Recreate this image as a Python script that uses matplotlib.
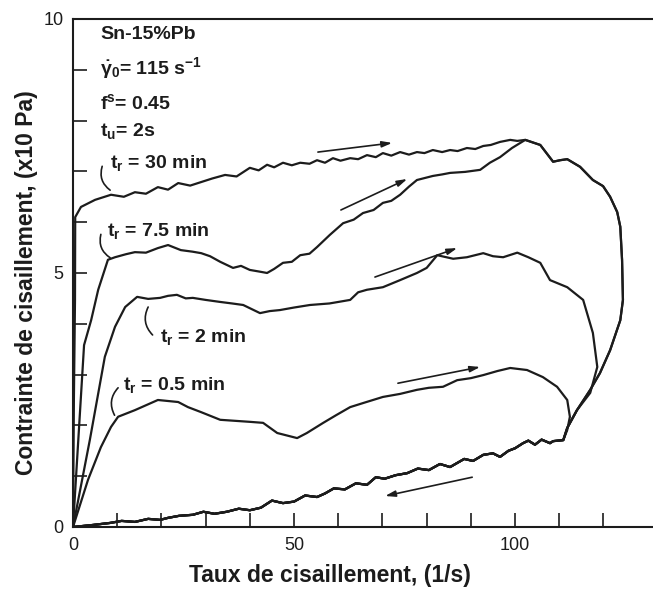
import matplotlib
matplotlib.use("Agg")
import matplotlib.pyplot as plt
from matplotlib.ticker import FixedLocator

plt.rcParams['font.family'] = ['Liberation Sans', 'DejaVu Sans']
plt.rcParams['mathtext.fontset'] = 'custom'
plt.rcParams['mathtext.rm'] = 'Liberation Sans:bold'
plt.rcParams['mathtext.it'] = 'Liberation Sans:bold'
plt.rcParams['mathtext.bf'] = 'Liberation Sans:bold'
plt.rcParams['mathtext.default'] = 'rm'

# loading branches (shear rate ramp up), one per rest time
rise_30_x = [0, 0.2, 0.45, 0.5, 1.8, 5.0, 8.6, 11.5, 14.0, 16.5, 19.2, 21.5, 23.8, 26.5, 29.0,
             31.5, 34.4, 37.0, 40.0, 42.0, 43.9, 45.5, 47.5, 49.5, 51.4, 53.5, 55.2, 57.0,
             58.8, 60.5, 62.7, 64.5, 66.5, 68.5, 70.1, 72.0, 74.0, 76.0, 77.8, 79.5, 81.4,
             83.5, 85.3, 87.0, 89.1, 91.0, 92.8, 94.5, 96.6, 98.9, 100.5, 102.3]
rise_30_y = [0, 2.5, 4.47, 6.10, 6.30, 6.44, 6.54, 6.50, 6.59, 6.56, 6.69, 6.64, 6.77, 6.72, 6.79,
             6.86, 6.93, 6.90, 7.07, 7.02, 7.13, 7.08, 7.17, 7.12, 7.17, 7.15, 7.22, 7.17,
             7.26, 7.21, 7.26, 7.24, 7.32, 7.28, 7.36, 7.31, 7.38, 7.33, 7.38, 7.36, 7.42,
             7.38, 7.42, 7.40, 7.46, 7.44, 7.50, 7.52, 7.58, 7.62, 7.60, 7.62]

rise_75_x = [0, 2.5, 4.1, 5.7, 7.9, 9.5, 12.0, 14.0, 16.5, 19.2, 21.5, 24.4, 27.0, 29.0, 31.0,
             33.3, 36.2, 38.0, 40.0, 42.0, 43.9, 45.5, 47.5, 49.5, 51.4, 53.5, 55.2, 58.1,
             61.1, 63.5, 65.6, 68.0, 70.1, 72.0, 74.0, 76.0, 77.8, 81.4, 83.5, 85.3, 88.7,
             92.1, 94.3, 96.6, 99.3, 102.3]
rise_75_y = [0, 3.58, 4.07, 4.67, 5.26, 5.31, 5.37, 5.41, 5.40, 5.49, 5.55, 5.45, 5.42, 5.39, 5.33,
             5.22, 5.10, 5.14, 5.06, 5.03, 5.00, 5.08, 5.20, 5.22, 5.35, 5.38, 5.51, 5.75,
             5.98, 6.05, 6.18, 6.24, 6.38, 6.42, 6.54, 6.70, 6.83, 6.91, 6.94, 6.97, 6.99,
             7.03, 7.17, 7.28, 7.46, 7.62]

# unloading from the common peak of the 30 min and 7.5 min runs
peak_down_x = [105.7, 108.6, 110.2, 111.8, 114.7, 117.6, 119.9, 121.5, 123.1, 123.8, 124.2,
               124.4, 123.8, 121.5, 119.2, 117.0, 114.0, 111.8, 110.9]
peak_down_y = [7.52, 7.19, 7.22, 7.24, 7.09, 6.83, 6.71, 6.50, 6.20, 5.91, 5.26,
               4.47, 4.07, 3.48, 3.03, 2.70, 2.30, 1.95, 1.71]

loop_2_x = [0, 3.8, 7.2, 9.5, 11.8, 14.5, 17.0, 19.7, 21.5, 23.5, 25.5, 27.1, 30.0, 33.3, 36.0,
            38.5, 42.3, 44.5, 46.8, 50.0, 53.6, 58.0, 62.7, 64.5, 66.5, 70.1, 74.0, 77.8,
            80.0, 82.4, 86.0, 89.1, 92.8, 95.0, 97.3, 100.5, 103.0, 105.7, 107.9, 111.8,
            115.4, 117.6, 118.6, 117.0, 114.0, 111.8, 110.9]
loop_2_y = [0, 1.71, 3.35, 3.94, 4.33, 4.53, 4.49, 4.51, 4.55, 4.57, 4.50, 4.51, 4.47, 4.43, 4.40,
            4.37, 4.21, 4.25, 4.27, 4.32, 4.37, 4.40, 4.47, 4.62, 4.67, 4.72, 4.86, 5.00,
            5.10, 5.35, 5.28, 5.31, 5.39, 5.33, 5.31, 5.40, 5.31, 5.20, 4.86, 4.72,
            4.47, 3.82, 3.15, 2.64, 2.30, 1.95, 1.71]

loop_05_x = [0, 3.4, 6.3, 8.6, 10.2, 14.0, 19.2, 23.8, 26.0, 29.0, 33.3, 40.0, 43.0, 46.2, 50.7,
             52.9, 56.6, 59.5, 62.7, 66.0, 70.1, 74.0, 77.8, 80.5, 83.7, 86.9, 90.0, 92.8,
             96.0, 98.9, 102.7, 106.3, 109.5, 111.8, 112.4, 111.8, 110.9]
loop_05_y = [0, 0.93, 1.57, 1.97, 2.17, 2.30, 2.50, 2.46, 2.36, 2.26, 2.11, 2.07, 2.05, 1.85, 1.75,
             1.85, 2.05, 2.20, 2.36, 2.45, 2.56, 2.62, 2.70, 2.74, 2.76, 2.89, 2.93, 2.99,
             3.07, 3.13, 3.09, 2.95, 2.76, 2.50, 2.17, 1.91, 1.71]

# common return branch (shear rate ramp down)
back_x = [110.9, 108.6, 107.9, 106.0, 104.5, 103.0, 101.8, 100.0, 98.5, 96.6, 95.0, 92.8, 90.5,
          88.5, 85.3, 83.0, 80.5, 78.0, 75.6, 73.0, 70.5, 68.5, 66.5, 64.0, 61.5, 59.0, 57.0,
          55.2, 52.5, 50.0, 47.5, 45.0, 42.5, 40.0, 37.5, 34.8, 32.0, 29.5, 27.1, 24.0, 21.5,
          19.7, 17.0, 14.0, 11.0, 8.4, 4.5, 0]
back_y = [1.71, 1.69, 1.65, 1.72, 1.62, 1.70, 1.65, 1.55, 1.50, 1.38, 1.45, 1.42, 1.30,
          1.34, 1.18, 1.24, 1.12, 1.15, 1.06, 1.02, 0.95, 0.98, 0.83, 0.86, 0.74, 0.76, 0.66,
          0.59, 0.62, 0.50, 0.47, 0.52, 0.38, 0.33, 0.36, 0.30, 0.26, 0.30, 0.24, 0.22, 0.18,
          0.14, 0.16, 0.10, 0.12, 0.08, 0.04, 0]

x_ticks = list(range(0, 121, 10))
x_labels = ['0', '', '', '', '', '50', '', '', '', '', '100', '', '']
y_ticks = list(range(0, 11))
y_labels = ['0', '', '', '', '', '5', '', '', '', '', '10']

ink = '#1c1c1c'

fig = plt.figure(figsize=(6.53, 5.91), dpi=100)
ax = fig.add_axes([0.1118, 0.1083, 0.8882, 0.8596])

curves = [
    (rise_30_x + peak_down_x + back_x, rise_30_y + peak_down_y + back_y),
    (rise_75_x + peak_down_x + back_x, rise_75_y + peak_down_y + back_y),
    (loop_2_x + back_x, loop_2_y + back_y),
    (loop_05_x + back_x, loop_05_y + back_y),
]
for cx, cy in curves:
    ax.plot(cx, cy, color=ink, lw=1.6, solid_joinstyle='round')

ax.set_xlim(0, 131.2)
ax.set_ylim(0, 10)
ax.spines['right'].set_visible(False)
for s in ['left', 'bottom', 'top']:
    ax.spines[s].set_linewidth(1.5)
    ax.spines[s].set_color(ink)

ax.xaxis.set_major_locator(FixedLocator(x_ticks))
ax.set_xticklabels(x_labels)
ax.yaxis.set_major_locator(FixedLocator(y_ticks))
ax.set_yticklabels(y_labels)
ax.tick_params(direction='in', length=10, width=1.2, color=ink, labelsize=13,
               labelcolor=ink, pad=7)

ax.set_xlabel('Taux de cisaillement, (1/s)', fontsize=16.5, fontweight='bold', color=ink)
ax.set_ylabel('Contrainte de cisaillement, (x10 Pa)', fontsize=16.5, fontweight='bold',
              color=ink)
ax.xaxis.set_label_coords(0.443, -0.072)
ax.yaxis.set_label_coords(-0.06, 0.482)

# test conditions
tkw = dict(fontsize=14, fontweight='bold', color=ink, ha='left', va='center')
ax.text(6.1, 9.69, 'Sn-15%Pb', **tkw)
ax.text(6.1, 9.04, r'$\dot{\gamma}_0$= 115 s$^{-1}$', **tkw)
ax.text(6.1, 8.35, r'f$^s$= 0.45', **tkw)
ax.text(6.1, 7.80, r't$_u$= 2s', **tkw)

# rest time labels with their leader hooks
labels = [
    (r't$_r$ = 30 min', (8.4, 7.17), (6.6, 7.10), (8.4, 6.63)),
    (r't$_r$ = 7.5 min', (7.6, 5.82), (6.3, 5.76), (8.4, 5.30)),
    (r't$_r$ = 2 min', (19.7, 3.74), (17.0, 4.33), (18.0, 3.78)),
    (r't$_r$ = 0.5 min', (11.3, 2.80), (10.2, 2.74), (9.4, 2.20)),
]
for txt, pos, a, b in labels:
    ax.text(pos[0], pos[1], txt, **tkw)
    ax.annotate('', xy=b, xytext=a,
                arrowprops=dict(arrowstyle='-', color=ink, lw=1.2,
                                connectionstyle='arc3,rad=0.35',
                                shrinkA=0, shrinkB=0))

# direction of the shear rate ramps
arrows = [
    ((55.4, 7.38), (72.2, 7.56)),
    ((60.6, 6.24), (75.6, 6.85)),
    ((68.3, 4.92), (86.9, 5.49)),
    ((73.5, 2.83), (92.1, 3.15)),
    ((90.3, 0.98), (70.6, 0.61)),
]
for start, end in arrows:
    ax.annotate('', xy=end, xytext=start,
                arrowprops=dict(arrowstyle='-|>,head_length=0.5,head_width=0.15',
                                color=ink, lw=1.2, mutation_scale=12,
                                shrinkA=0, shrinkB=0))

fig.savefig('out.png', dpi=100)
